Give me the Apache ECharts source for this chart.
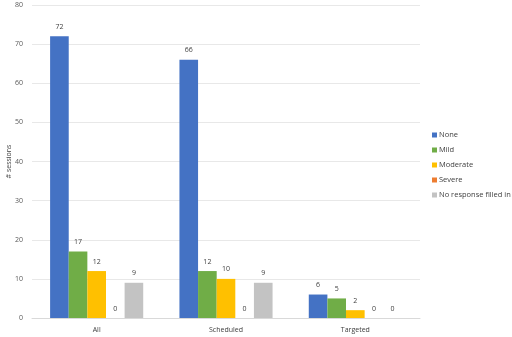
<!DOCTYPE html>
<html>
<head>
<meta charset="utf-8">
<script src="https://cdn.jsdelivr.net/npm/echarts@6/dist/echarts.min.js"></script>
<style>
  html, body { margin: 0; padding: 0; background: #fff; }
  #chart { width: 512px; height: 337px; }
</style>
</head>
<body>
<div id="chart"></div>
<script>
const categories = ["All", "Scheduled", "Targeted"];
const seriesNames = ["None", "Mild", "Moderate", "Severe", "No response filled in"];
const none = [72, 66, 6];
const mild = [17, 12, 5];
const moderate = [12, 10, 2];
const severe = [0, 0, 0];
const noResponse = [9, 9, 0];
const yTicks = { min: 0, max: 80, interval: 10 };

const colors = ["#4472C4", "#70AD47", "#FFC000", "#ED7D31", "#C3C3C3"];
const values = [none, mild, moderate, severe, noResponse];

const chart = echarts.init(document.getElementById("chart"));

chart.setOption({
  animation: false,
  textStyle: { fontFamily: "Open Sans, sans-serif" },
  grid: { left: 32, right: 92, top: 5, bottom: 19, outerBoundsMode: "none", containLabel: false },
  legend: {
    orient: "vertical",
    left: 432,
    top: 131,
    width: 80,
    padding: 0,
    itemWidth: 5,
    itemHeight: 5,
    itemGap: 7,
    icon: "rect",
    textStyle: { fontSize: 7.5, color: "#404040", padding: [0, 0, 0, -3], overflow: "none" },
    data: seriesNames
  },
  xAxis: {
    type: "category",
    data: categories,
    axisLine: { lineStyle: { color: "#d9d9d9" } },
    axisTick: { show: false },
    axisLabel: { fontSize: 7, color: "#404040", margin: 8 }
  },
  yAxis: {
    type: "value",
    min: yTicks.min,
    max: yTicks.max,
    interval: yTicks.interval,
    name: "# sessions",
    nameLocation: "middle",
    nameGap: 23,
    nameMoveOverlap: false,
    nameTextStyle: { fontSize: 7, color: "#404040", verticalAlign: "middle" },
    axisLine: { show: false },
    axisTick: { show: false },
    axisLabel: { fontSize: 7, color: "#595959", margin: 9 },
    splitLine: { lineStyle: { color: "#e8e8e8" } }
  },
  series: seriesNames.map((name, i) => ({
    name: name,
    type: "bar",
    data: values[i],
    barGap: "0%",
    barCategoryGap: "28%",
    itemStyle: { color: colors[i] },
    label: {
      show: true,
      position: "top",
      distance: 6,
      fontSize: 7,
      color: "#404040"
    }
  }))
});
</script>
</body>
</html>
